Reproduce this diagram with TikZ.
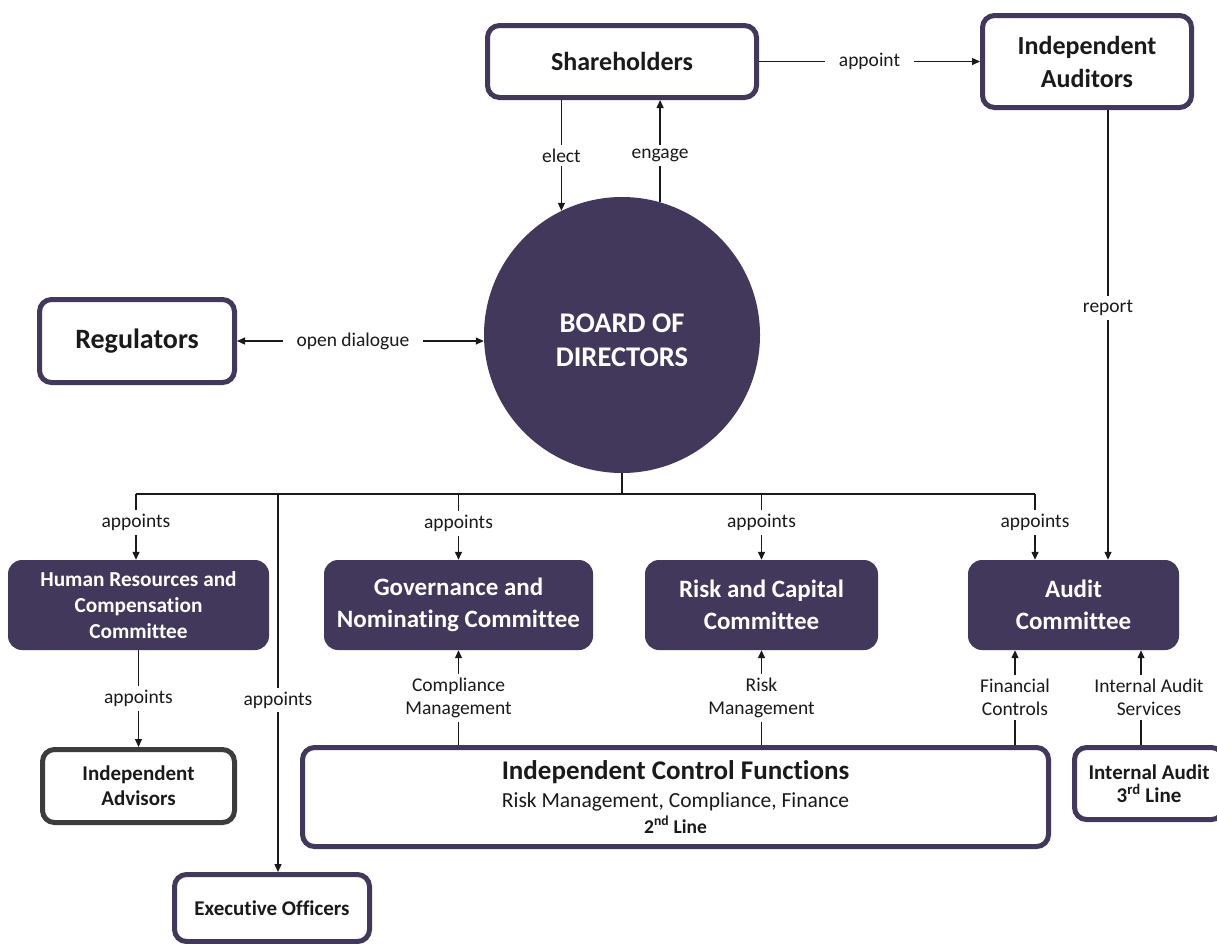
\documentclass[tikz,border=0pt]{standalone}
\usepackage{fontspec}
\setmainfont{Carlito}[Ligatures=NoCommon]
\usetikzlibrary{arrows.meta}
\definecolor{boardpurple}{HTML}{41385B}
\definecolor{advisorgrey}{HTML}{3C3C3C}
\definecolor{labelink}{HTML}{1A1A1A}
\newcommand{\fsz}[2]{\fontsize{#1}{#2}\selectfont}

\begin{document}
\begin{tikzpicture}[
  x=1pt,
  y=-1pt,
  >={Triangle[length=8pt,width=7pt]},
  outline/.style={draw=boardpurple, line width=5pt, rounded corners=12pt, fill=white,
    align=center, inner sep=0pt, text=labelink},
  commbox/.style={fill=boardpurple, rounded corners=14pt, text=white, align=center,
    inner sep=0pt, minimum height=90pt, font=\bfseries\fsz{25}{32}},
  conn/.style={line width=1.3pt, draw=labelink},
  lbl/.style={fill=white, text=labelink, inner xsep=14pt, inner ysep=4pt, align=center,
    font=\fsz{19.5}{23}}
]
  \useasboundingbox (0,0) rectangle (1217,943);

  % top row and the board
  \node[outline, minimum width=269pt, minimum height=72pt, font=\bfseries\fsz{26}{32}]
    (share) at (622,61.5) {Shareholders};
  \node[outline, minimum width=209pt, minimum height=92pt, font=\bfseries\fsz{26}{33}]
    (auditors) at (1087,61.5) {Independent\\Auditors};
  \node[outline, minimum width=195pt, minimum height=83pt, font=\bfseries\fsz{28}{34}]
    (regulators) at (137,341) {Regulators};
  \node[circle, fill=boardpurple, minimum size=276pt, inner sep=0pt,
    label={[text=white, align=center, yshift=-5pt, font=\bfseries\fsz{28.5}{34}]center:BOARD OF\\DIRECTORS}]
    (board) at (622,335) {};

  % committees
  \node[commbox, minimum width=261pt, font=\bfseries\fsz{21.3}{26}] (hrcomm) at (138.5,605)
    {Human Resources and\\Compensation\\Committee};
  \node[commbox, minimum width=269pt] (govcomm) at (458.5,605) {Governance and\\Nominating Committee};
  \node[commbox, minimum width=233pt] (riskcomm) at (761.5,605) {Risk and Capital\\Committee};
  \node[commbox, minimum width=211pt] (auditcomm) at (1073.5,605) {Audit\\Committee};

  % bottom row
  \node[outline, draw=advisorgrey, minimum width=192pt, minimum height=73pt,
    font=\bfseries\fsz{21}{25}] (advisors) at (138.5,786) {Independent\\Advisors};
  \node[outline, minimum width=195pt, minimum height=67pt, font=\bfseries\fsz{21}{25}]
    (officers) at (272,908) {Executive Officers};
  \node[outline, minimum width=746pt, minimum height=99pt, font=\fsz{21.5}{26}] (controls) at (675.5,797)
    {{\bfseries\fsz{27}{28}Independent Control Functions}\\[2pt]
     Risk Management, Compliance, Finance\\
     {\bfseries\fsz{19.5}{25}2\textsuperscript{nd} Line}};
  \node[outline, minimum width=149pt, minimum height=72pt, font=\bfseries\fsz{21}{23}]
    (internal) at (1149,783.5) {Internal Audit\\3\textsuperscript{rd} Line};

  \coordinate (busL) at (136,494);
  \coordinate (busR) at (1035,494);
  \coordinate (offtop) at ([xshift=6pt]officers.north);
  \coordinate (finctl) at ([xshift=-58.5pt]auditcomm.south);
  \coordinate (iactl) at ([xshift=67.5pt]auditcomm.south);

  % shareholders, auditors, regulators
  \draw[conn,->] (share) -- node[lbl]{appoint} (auditors);
  \draw[conn,->] (share.south -| board.116.7) -- node[lbl]{elect} (board.116.7);
  \draw[conn,->] (board.74) -- node[lbl,pos=.46]{engage} (share.south -| board.74);
  \draw[conn,<->] (regulators.east) -- node[lbl,pos=.47]{open dialogue} (board.west |- regulators.east);
  \draw[conn,->] ([xshift=21pt]auditors.south) -- node[lbl,pos=.44]{report}
    ([xshift=21pt]auditors.south |- auditcomm.north);

  % board appoints
  \draw[conn] (board.south) -- (board.south |- busL);
  \draw[conn] (busL) -- (busR);
  \draw[conn,->] (busL) -- node[lbl,pos=.43]{appoints} (busL |- hrcomm.north);
  \draw[conn,->] (busL -| govcomm) -- node[lbl,pos=.45]{appoints} (govcomm);
  \draw[conn,->] (busL -| riskcomm) -- node[lbl,pos=.43]{appoints} (riskcomm);
  \draw[conn,->] (busR) -- node[lbl,pos=.43]{appoints} (busR |- auditcomm.north);
  \draw[conn,->] (busL -| offtop) -- node[lbl,pos=.545]{appoints} (offtop);
  \draw[conn,->] (hrcomm) -- node[lbl]{appoints} (advisors);

  % reporting lines
  \draw[conn,->] (controls.north -| govcomm) -- node[lbl]{Compliance\\Management} (govcomm);
  \draw[conn,->] (controls.north -| riskcomm) -- node[lbl]{Risk\\Management} (riskcomm);
  \draw[conn,->] (controls.north -| finctl) -- node[lbl]{Financial\\Controls} (finctl);
  \draw[conn,->] (internal.north -| iactl) -- node[lbl,xshift=8pt]{Internal Audit\\Services} (iactl);
\end{tikzpicture}
\end{document}
